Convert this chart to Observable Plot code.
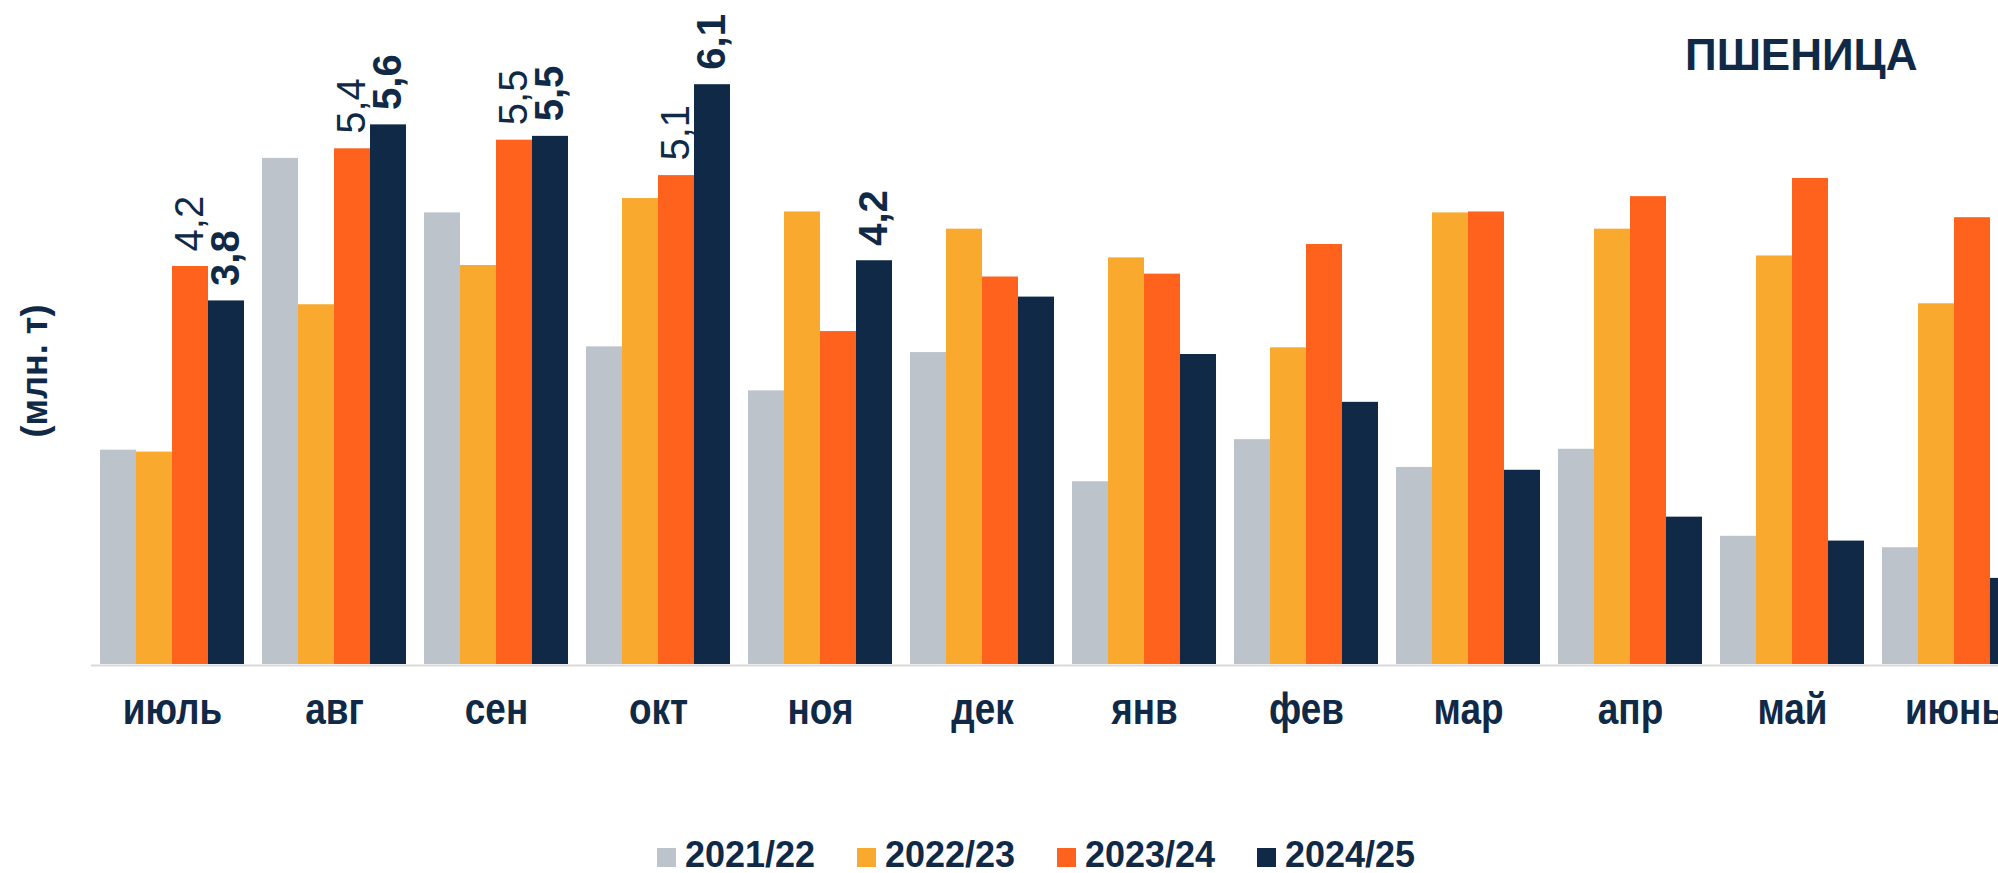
<!DOCTYPE html>
<html>
<head>
<meta charset="utf-8">
<script src="https://cdn.jsdelivr.net/npm/d3@7"></script>
<script src="https://cdn.jsdelivr.net/npm/@observablehq/plot@0.6"></script>
<style>
  html, body { margin: 0; padding: 0; background: #fff; width: 1998px; height: 873px; overflow: hidden; }
  #wrap { position: relative; width: 1998px; height: 873px; }
  #chart { position: absolute; left: 0; top: 0; }
  #title { position: absolute; left: 1685px; top: 33px; font: bold 44px/44px "Liberation Sans", Arial, sans-serif; color: #0f2946; white-space: nowrap; }
  #ylabel { position: absolute; left: 35px; top: 371px; transform: translate(-50%, -50%) rotate(-90deg); font: bold 36px/36px "Liberation Sans", Arial, sans-serif; color: #0f2946; white-space: nowrap; }
  #legend { position: absolute; left: 657px; top: 837px; display: flex; font: bold 36px/36px "Liberation Sans", Arial, sans-serif; color: #0f2946; }
  .item { width: 200px; white-space: nowrap; }
  .sw { display: inline-block; width: 19px; height: 19px; margin-right: 9px; }
</style>
</head>
<body>
<div id="wrap">
  <div id="chart"></div>
  <div id="title">ПШЕНИЦА</div>
  <div id="ylabel">(млн. т)</div>
  <div id="legend"></div>
</div>
<script>
const months = ["июль", "авг", "сен", "окт", "ноя", "дек", "янв", "фев", "мар", "апр", "май", "июнь"];
const seasons = ["2021/22", "2022/23", "2023/24", "2024/25"];
const colors = ["#bdc3cb", "#f8a92e", "#ff621d", "#0f2946"];

const v2122 = [2.24, 5.29, 4.72, 3.32, 2.86, 3.26, 1.91, 2.35, 2.06, 2.25, 1.34, 1.22];
const v2223 = [2.22, 3.76, 4.17, 4.87, 4.73, 4.55, 4.25, 3.31, 4.72, 4.55, 4.27, 3.77];
const v2324 = [4.16, 5.39, 5.48, 5.11, 3.48, 4.05, 4.08, 4.39, 4.73, 4.89, 5.08, 4.67];
const v2425 = [3.80, 5.64, 5.52, 6.06, 4.22, 3.84, 3.24, 2.74, 2.03, 1.54, 1.29, 0.90];

const labelMonths2324 = ["июль", "авг", "сен", "окт"];
const labelMonths2425 = ["июль", "авг", "сен", "окт", "ноя"];

const navy = "#0f2946";
const seriesValues = [v2122, v2223, v2324, v2425];
const data = months.flatMap((m, i) => seasons.map((s, j) => ({month: m, season: s, value: seriesValues[j][i]})));
const lab2324 = data.filter(d => d.season === "2023/24" && labelMonths2324.includes(d.month));
const lab2425 = data.filter(d => d.season === "2024/25" && labelMonths2425.includes(d.month));
const fmt = v => d3.format(".1f")(v).replace(".", ",");

const chart = Plot.plot({
  width: 1998,
  height: 760,
  marginLeft: 90,
  marginRight: 0,
  marginTop: 0,
  marginBottom: 96,
  style: {
    fontFamily: "'Liberation Sans', Arial, sans-serif",
    fontSize: "45px",
    fontWeight: "bold",
    color: navy,
    background: "white"
  },
  fx: {domain: months, range: [89.8, 2036.2], paddingInner: 0.112, paddingOuter: 0.056, axis: "bottom", label: null, tickSize: 0, tickPadding: 28},
  x: {domain: seasons, axis: null, padding: 0},
  y: {domain: [0, 6.94], axis: null},
  color: {domain: seasons, range: colors},
  marks: [
    Plot.barY(data, {fx: "month", x: "season", y: "value", fill: "season"}),
    Plot.ruleY([0], {stroke: "#d9d9d9", strokeWidth: 2, dy: 1, insetLeft: -9.1, insetRight: -9.1}),
    Plot.text(lab2324, {fx: "month", x: "season", y: "value", text: d => fmt(d.value), rotate: -90, textAnchor: "start", lineAnchor: "middle", dy: -15, fontSize: 40, fontWeight: "normal", fontFamily: "'Liberation Sans', Arial, sans-serif", fill: navy}),
    Plot.text(lab2425, {fx: "month", x: "season", y: "value", text: d => fmt(d.value), rotate: -90, textAnchor: "start", lineAnchor: "middle", dy: -15, fontSize: 40, fontWeight: "bold", fontFamily: "'Liberation Sans', Arial, sans-serif", fill: navy})
  ]
});
document.getElementById("chart").appendChild(chart);

// condense the month tick labels (the reference uses a narrow face)
chart.querySelectorAll('g[aria-label="fx-axis tick label"] text').forEach(el => {
  const L = el.getComputedTextLength();
  if (L > 0) {
    el.setAttribute("textLength", (L * 0.82).toFixed(1));
    el.setAttribute("lengthAdjust", "spacingAndGlyphs");
  }
});

const legend = document.getElementById("legend");
seasons.forEach((s, j) => {
  const item = document.createElement("div");
  item.className = "item";
  const sw = document.createElement("span");
  sw.className = "sw";
  sw.style.background = colors[j];
  item.appendChild(sw);
  item.appendChild(document.createTextNode(s));
  legend.appendChild(item);
});
</script>
</body>
</html>
